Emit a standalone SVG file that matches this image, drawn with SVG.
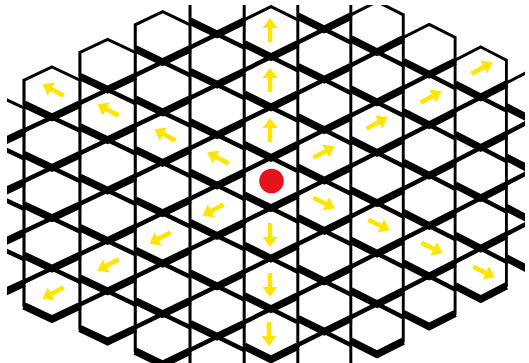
<svg xmlns="http://www.w3.org/2000/svg" width="529" height="363" viewBox="0 0 529 363">
<style>
.ln{fill:none;stroke:#000;stroke-width:3}
.tb{fill:none;stroke:#000;stroke-width:7.5;stroke-linejoin:miter;stroke-miterlimit:10}
.tt{fill:none;stroke:#000;stroke-width:4.5;stroke-linejoin:miter;stroke-miterlimit:10}
.ar{fill:#FFE500}
</style>
<defs>
<clipPath id="clip"><rect x="7" y="5" width="518" height="358"/></clipPath>
<g id="cellN">
<polygon class="ln" points="0,-25.2 27,-12 27,12 0,25.2 -27,12 -27,-12"/>
<polyline class="tb" points="-27,12 0,25.2 27,12"/>
</g>
<g id="cellT">
<use href="#cellN"/>
<polyline class="tt" points="-27,-12 0,-25.2 27,-12"/>
</g>
<path id="ar" d="M-12,-2.3 H2 V-7.5 L12,0 L2,7.5 V2.3 H-12 Z"/>
</defs>
<rect width="529" height="363" fill="#fff"/>
<g id="grid" clip-path="url(#clip)">
<g id="col-5">
<use href="#cellT" transform="translate(-4.25 271.1) scale(1.046 1)"/>
<use href="#cellT" transform="translate(-4.25 220.7) scale(1.046 1)"/>
<use href="#cellT" transform="translate(-4.25 170.3) scale(1.046 1)"/>
<use href="#cellN" transform="translate(-4.25 119.9) scale(1.046 1)"/>
</g>
<g id="col-4">
<use href="#cellT" transform="translate(51.96 293.8) scale(1.036 1)"/>
<use href="#cellT" transform="translate(51.96 243.4) scale(1.036 1)"/>
<use href="#cellT" transform="translate(51.96 193) scale(1.036 1)"/>
<use href="#cellT" transform="translate(51.96 142.6) scale(1.036 1)"/>
<use href="#cellN" transform="translate(51.96 92.2) scale(1.036 1)"/>
</g>
<g id="col-3">
<use href="#cellT" transform="translate(107.59 316.5) scale(1.025 1)"/>
<use href="#cellT" transform="translate(107.59 266.1) scale(1.025 1)"/>
<use href="#cellT" transform="translate(107.59 215.7) scale(1.025 1)"/>
<use href="#cellT" transform="translate(107.59 165.3) scale(1.025 1)"/>
<use href="#cellT" transform="translate(107.59 114.9) scale(1.025 1)"/>
<use href="#cellN" transform="translate(107.59 64.5) scale(1.025 1)"/>
</g>
<g id="col-2">
<use href="#cellT" transform="translate(162.64 339.2) scale(1.014 1)"/>
<use href="#cellT" transform="translate(162.64 288.8) scale(1.014 1)"/>
<use href="#cellT" transform="translate(162.64 238.4) scale(1.014 1)"/>
<use href="#cellT" transform="translate(162.64 188) scale(1.014 1)"/>
<use href="#cellT" transform="translate(162.64 137.6) scale(1.014 1)"/>
<use href="#cellT" transform="translate(162.64 87.2) scale(1.014 1)"/>
<use href="#cellN" transform="translate(162.64 36.8) scale(1.014 1)"/>
</g>
<g id="col-1">
<use href="#cellT" transform="translate(217.11 361.9) scale(1.003 1)"/>
<use href="#cellT" transform="translate(217.11 311.5) scale(1.003 1)"/>
<use href="#cellT" transform="translate(217.11 261.1) scale(1.003 1)"/>
<use href="#cellT" transform="translate(217.11 210.7) scale(1.003 1)"/>
<use href="#cellT" transform="translate(217.11 160.3) scale(1.003 1)"/>
<use href="#cellT" transform="translate(217.11 109.9) scale(1.003 1)"/>
<use href="#cellT" transform="translate(217.11 59.5) scale(1.003 1)"/>
<use href="#cellN" transform="translate(217.11 9.1) scale(1.003 1)"/>
</g>
<g id="col0">
<use href="#cellT" transform="translate(271 334.2) scale(0.993 1)"/>
<use href="#cellT" transform="translate(271 283.8) scale(0.993 1)"/>
<use href="#cellT" transform="translate(271 233.4) scale(0.993 1)"/>
<use href="#cellT" transform="translate(271 183) scale(0.993 1)"/>
<use href="#cellT" transform="translate(271 132.6) scale(0.993 1)"/>
<use href="#cellT" transform="translate(271 82.2) scale(0.993 1)"/>
<use href="#cellN" transform="translate(271 31.8) scale(0.993 1)"/>
</g>
<g id="col1">
<use href="#cellT" transform="translate(324.31 356.9) scale(0.982 1)"/>
<use href="#cellT" transform="translate(324.31 306.5) scale(0.982 1)"/>
<use href="#cellT" transform="translate(324.31 256.1) scale(0.982 1)"/>
<use href="#cellT" transform="translate(324.31 205.7) scale(0.982 1)"/>
<use href="#cellT" transform="translate(324.31 155.3) scale(0.982 1)"/>
<use href="#cellT" transform="translate(324.31 104.9) scale(0.982 1)"/>
<use href="#cellT" transform="translate(324.31 54.5) scale(0.982 1)"/>
<use href="#cellN" transform="translate(324.31 4.1) scale(0.982 1)"/>
</g>
<g id="col2">
<use href="#cellT" transform="translate(377.04 329.2) scale(0.971 1)"/>
<use href="#cellT" transform="translate(377.04 278.8) scale(0.971 1)"/>
<use href="#cellT" transform="translate(377.04 228.4) scale(0.971 1)"/>
<use href="#cellT" transform="translate(377.04 178) scale(0.971 1)"/>
<use href="#cellT" transform="translate(377.04 127.6) scale(0.971 1)"/>
<use href="#cellT" transform="translate(377.04 77.2) scale(0.971 1)"/>
<use href="#cellN" transform="translate(377.04 26.8) scale(0.971 1)"/>
</g>
<g id="col3">
<use href="#cellT" transform="translate(429.19 301.5) scale(0.96 1)"/>
<use href="#cellT" transform="translate(429.19 251.1) scale(0.96 1)"/>
<use href="#cellT" transform="translate(429.19 200.7) scale(0.96 1)"/>
<use href="#cellT" transform="translate(429.19 150.3) scale(0.96 1)"/>
<use href="#cellT" transform="translate(429.19 99.9) scale(0.96 1)"/>
<use href="#cellN" transform="translate(429.19 49.5) scale(0.96 1)"/>
</g>
<g id="col4">
<use href="#cellT" transform="translate(480.76 273.8) scale(0.95 1)"/>
<use href="#cellT" transform="translate(480.76 223.4) scale(0.95 1)"/>
<use href="#cellT" transform="translate(480.76 173) scale(0.95 1)"/>
<use href="#cellT" transform="translate(480.76 122.6) scale(0.95 1)"/>
<use href="#cellN" transform="translate(480.76 72.2) scale(0.95 1)"/>
</g>
<g id="col5">
<use href="#cellT" transform="translate(531.75 246.1) scale(0.939 1)"/>
<use href="#cellT" transform="translate(531.75 195.7) scale(0.939 1)"/>
<use href="#cellT" transform="translate(531.75 145.3) scale(0.939 1)"/>
<use href="#cellN" transform="translate(531.75 94.9) scale(0.939 1)"/>
</g>
</g>
<g id="arrows" class="ar">
<use href="#ar" transform="translate(270,30) rotate(-90)"/>
<use href="#ar" transform="translate(270,80) rotate(-90)"/>
<use href="#ar" transform="translate(270,130) rotate(-90)"/>
<use href="#ar" transform="translate(270,235) rotate(90)"/>
<use href="#ar" transform="translate(270,285) rotate(90)"/>
<use href="#ar" transform="translate(269,334) rotate(90)"/>
<use href="#ar" transform="translate(53,90) rotate(-152)"/>
<use href="#ar" transform="translate(108,110) rotate(-152)"/>
<use href="#ar" transform="translate(165,135) rotate(-152)"/>
<use href="#ar" transform="translate(218,158) rotate(-152)"/>
<use href="#ar" transform="translate(213,210) rotate(152)"/>
<use href="#ar" transform="translate(160,238) rotate(152)"/>
<use href="#ar" transform="translate(108,265) rotate(152)"/>
<use href="#ar" transform="translate(53,293) rotate(152)"/>
<use href="#ar" transform="translate(324,152) rotate(-29)"/>
<use href="#ar" transform="translate(377,123) rotate(-29)"/>
<use href="#ar" transform="translate(431,97) rotate(-29)"/>
<use href="#ar" transform="translate(482,68) rotate(-29)"/>
<use href="#ar" transform="translate(324,203) rotate(26)"/>
<use href="#ar" transform="translate(379,225) rotate(26)"/>
<use href="#ar" transform="translate(432,248) rotate(26)"/>
<use href="#ar" transform="translate(484,272) rotate(26)"/>
</g>
<circle id="origin" cx="271.5" cy="181" r="12.3" fill="#E3141C"/>
</svg>
